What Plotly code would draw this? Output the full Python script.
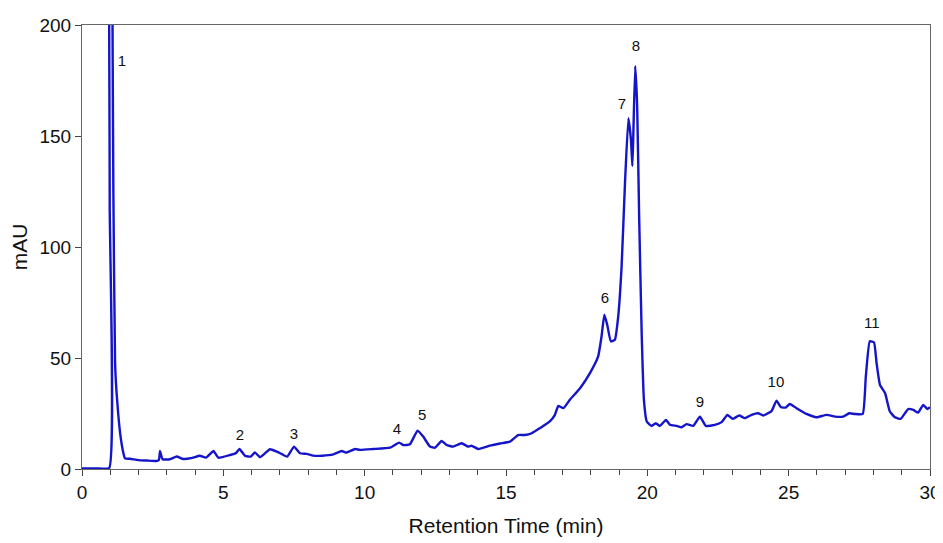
import plotly.graph_objects as go

# Retention time (min) and absorbance (mAU)
time_min = [0.0, 0.5, 0.96, 0.98, 1.0, 1.04, 1.08, 1.11, 1.17, 1.22, 1.28, 1.36, 1.45, 1.52,
            1.70, 2.0, 2.29, 2.64, 2.72, 2.76, 2.85, 3.11, 3.35, 3.58, 3.9, 4.17, 4.39, 4.65, 4.82,
            5.24, 5.45, 5.57, 5.77, 5.97, 6.12, 6.30, 6.65, 6.89, 7.06, 7.26, 7.50, 7.71, 7.95,
            8.18, 8.5, 8.89, 9.19, 9.36, 9.66, 9.83, 10.3, 10.9, 11.22, 11.37, 11.60, 11.87,
            12.07, 12.31, 12.49, 12.72, 12.90, 13.13, 13.43, 13.66, 13.78, 14.02, 14.43, 14.79,
            15.14, 15.43, 15.67, 15.91, 16.20, 16.55, 16.73, 16.85, 17.03, 17.26, 17.62, 17.97,
            18.26, 18.38, 18.48, 18.58, 18.71, 18.85, 18.97, 19.09, 19.21, 19.33, 19.42, 19.47,
            19.50, 19.57, 19.64, 19.71, 19.80, 19.88, 19.98, 20.15, 20.30, 20.44, 20.66, 20.80,
            21.04, 21.21, 21.39, 21.62, 21.86, 22.07, 22.39, 22.63, 22.83, 23.02, 23.25, 23.45,
            23.69, 23.92, 24.10, 24.40, 24.57, 24.73, 24.90, 25.04, 25.28, 25.63, 25.99, 26.34,
            26.64, 26.93, 27.14, 27.34, 27.62, 27.73, 27.87, 28.02, 28.11, 28.23, 28.41, 28.58,
            28.76, 28.96, 29.23, 29.41, 29.58, 29.76, 29.91, 30.0]
absorbance_mau = [0.3, 0.3, 0.4, 120, 400, 400, 200, 124, 48, 35, 25, 15, 8, 4.8,
                  4.6, 4.0, 3.8, 3.6, 4.0, 8.1, 4.4, 4.4, 5.6, 4.5, 5.0, 6.0, 5.1, 8.1, 5.1,
                  6.3, 7.2, 9.0, 5.9, 5.6, 7.4, 5.3, 8.9, 7.8, 6.8, 5.6, 10.1, 7.1, 6.8,
                  6.0, 6.0, 6.6, 8.1, 7.4, 9.0, 8.6, 9.0, 9.6, 11.9, 10.8, 11.1, 17.3,
                  14.6, 10.1, 9.6, 12.6, 10.8, 10.1, 11.6, 10.1, 10.5, 9.0, 10.5, 11.5,
                  12.3, 15.3, 15.3, 16.1, 18.4, 21.4, 24.4, 28.4, 27.4, 31.2, 36.4, 43.2,
                  50.7, 59.7, 69.5, 65.0, 57.5, 58.2, 68.8, 91.3, 129.0, 158.0, 148.5, 136.5,
                  148.5, 181.6, 163.6, 114.0, 61.0, 31.0, 21.4, 19.4, 20.6, 19.4, 22.1, 19.9,
                  19.4, 18.8, 20.2, 19.4, 23.6, 19.4, 19.9, 21.1, 24.4, 22.6, 24.1, 22.9,
                  24.4, 25.1, 24.1, 26.2, 30.8, 27.8, 27.7, 29.3, 27.4, 24.8, 23.3, 24.4,
                  23.6, 23.6, 25.1, 24.8, 24.8, 41.7, 57.5, 57.0, 47.7, 37.9, 34.2, 25.9,
                  23.3, 22.6, 27.0, 26.6, 25.4, 28.9, 27.0, 27.8]

# Peak labels
peak_labels = ["1", "2", "3", "4", "5", "6", "7", "8", "9", "10", "11"]
peak_label_t = [1.41, 5.59, 7.50, 11.14, 12.03, 18.50, 19.10, 19.60, 21.86, 24.55, 27.94]
peak_label_y = [183.3, 14.9, 15.3, 17.6, 23.9, 76.3, 164.0, 190.0, 29.8, 38.8, 65.0]

x_ticks = [0, 5, 10, 15, 20, 25, 30]
y_ticks = [0, 50, 100, 150, 200]

FONT = "Liberation Sans, Arial"

fig = go.Figure()
fig.add_trace(go.Scatter(x=time_min, y=absorbance_mau, mode="lines",
                         line=dict(color="#1414c8", width=2.4, shape="spline", smoothing=0.4),
                         showlegend=False, hoverinfo="skip"))
fig.add_trace(go.Scatter(x=peak_label_t, y=peak_label_y, mode="text", text=peak_labels,
                         textfont=dict(family=FONT, size=15, color="#111"),
                         showlegend=False, hoverinfo="skip", cliponaxis=False))

axis_font = dict(family=FONT, size=19, color="#111")
title_font = dict(family=FONT, size=21, color="#111")
# The page body adds an 8 px offset, so the figure is sized 8 px smaller.
fig.update_layout(
    width=935, height=535,
    margin=dict(l=74, r=13, t=17, b=74),
    paper_bgcolor="white", plot_bgcolor="white",
    xaxis=dict(range=[0, 30], tickvals=x_ticks, ticks="outside", ticklen=6, tickcolor="#444",
               minor=dict(dtick=1, ticks="outside", ticklen=5, tickcolor="#444"),
               showgrid=False, zeroline=False, showline=True, linecolor="#666", linewidth=1.2,
               mirror=True, tickfont=axis_font, automargin=False,
               title=dict(text="Retention Time (min)", font=title_font, standoff=16)),
    yaxis=dict(range=[0, 200], tickvals=y_ticks, ticks="outside", ticklen=6, tickcolor="#444",
               showgrid=False, zeroline=False, showline=True, linecolor="#666", linewidth=1.2,
               mirror=True, tickfont=axis_font, automargin=False,
               title=dict(text="mAU", font=title_font, standoff=6)),
)

fig.write_html("out.html")
